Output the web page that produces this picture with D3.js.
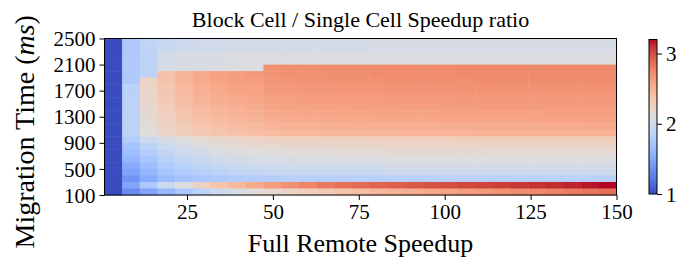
<!DOCTYPE html>
<html lang="en">
<head>
  <meta charset="UTF-8">
  <title>Block Cell / Single Cell Speedup ratio</title>
  <style>
    body {
      margin: 0;
      background: #fff;
    }
    text {
      font-family: "Liberation Serif", "Times New Roman", serif;
      fill: #000;
    }
  </style>
</head>
<body>
  <div id="chart"></div>

  <script src="https://d3js.org/d3.v7.min.js"></script>
  <script>
    // Full remote speedup (one column each)
    const speedups = [1, 6, 11, 16, 21, 26, 31, 36, 41, 46, 51, 56, 61, 66, 71,
      76, 81, 86, 91, 96, 101, 106, 111, 116, 121, 126, 131, 136, 141];

    // Migration time, lower edge of each row (ms), top row first
    const migrationTimes = [2400, 2300, 2200, 2100, 2000, 1900, 1800, 1700, 1600, 1500,
      1400, 1300, 1200, 1100, 1000, 900, 800, 700, 600, 500, 400, 300, 200, 100];
    const rowStep = 100;

    // Block cell / single cell speedup ratio, one row per migration time
    const ratio = [
      [1.00, 1.76, 1.88, 1.95, 1.97, 1.99, 2.00, 2.01, 2.01, 2.02, 2.02, 2.03, 2.03, 2.03, 2.03, 2.04, 2.04, 2.04, 2.04, 2.04, 2.04, 2.04, 2.04, 2.04, 2.04, 2.04, 2.04, 2.04, 2.04],
      [1.00, 1.76, 1.88, 1.95, 1.97, 1.99, 2.00, 2.01, 2.01, 2.02, 2.02, 2.03, 2.03, 2.03, 2.03, 2.04, 2.04, 2.04, 2.04, 2.04, 2.04, 2.04, 2.04, 2.04, 2.04, 2.04, 2.04, 2.04, 2.04],
      [1.00, 1.77, 1.87, 2.02, 2.04, 2.05, 2.06, 2.07, 2.07, 2.08, 2.08, 2.08, 2.08, 2.08, 2.08, 2.08, 2.08, 2.08, 2.08, 2.08, 2.08, 2.08, 2.08, 2.08, 2.08, 2.08, 2.08, 2.08, 2.08],
      [1.00, 1.77, 1.87, 2.02, 2.04, 2.05, 2.06, 2.07, 2.07, 2.08, 2.08, 2.08, 2.08, 2.08, 2.08, 2.08, 2.08, 2.08, 2.08, 2.08, 2.08, 2.08, 2.08, 2.08, 2.08, 2.08, 2.08, 2.08, 2.08],
      [1.00, 1.77, 1.87, 2.05, 2.06, 2.07, 2.07, 2.08, 2.08, 2.70, 2.71, 2.71, 2.72, 2.72, 2.72, 2.73, 2.73, 2.73, 2.73, 2.73, 2.74, 2.74, 2.74, 2.74, 2.74, 2.74, 2.74, 2.74, 2.74],
      [1.00, 1.76, 1.87, 2.40, 2.50, 2.57, 2.61, 2.63, 2.65, 2.69, 2.70, 2.70, 2.71, 2.71, 2.71, 2.72, 2.72, 2.72, 2.72, 2.72, 2.73, 2.73, 2.73, 2.73, 2.73, 2.73, 2.73, 2.73, 2.73],
      [1.00, 1.76, 2.24, 2.38, 2.48, 2.55, 2.59, 2.62, 2.63, 2.67, 2.68, 2.69, 2.69, 2.70, 2.70, 2.70, 2.71, 2.71, 2.71, 2.71, 2.71, 2.72, 2.72, 2.72, 2.72, 2.72, 2.72, 2.72, 2.72],
      [1.00, 1.84, 2.23, 2.36, 2.46, 2.53, 2.57, 2.60, 2.61, 2.65, 2.66, 2.67, 2.67, 2.68, 2.68, 2.68, 2.69, 2.69, 2.69, 2.69, 2.70, 2.70, 2.70, 2.70, 2.70, 2.70, 2.70, 2.70, 2.70],
      [1.00, 1.84, 2.21, 2.34, 2.44, 2.51, 2.55, 2.58, 2.59, 2.63, 2.64, 2.65, 2.65, 2.66, 2.66, 2.66, 2.67, 2.67, 2.67, 2.67, 2.68, 2.68, 2.68, 2.68, 2.68, 2.68, 2.68, 2.68, 2.68],
      [1.00, 1.85, 2.20, 2.32, 2.42, 2.49, 2.53, 2.56, 2.57, 2.61, 2.62, 2.63, 2.63, 2.64, 2.64, 2.64, 2.65, 2.65, 2.65, 2.65, 2.66, 2.66, 2.66, 2.66, 2.66, 2.66, 2.66, 2.66, 2.66],
      [1.00, 1.85, 2.18, 2.30, 2.40, 2.46, 2.50, 2.53, 2.55, 2.59, 2.60, 2.60, 2.61, 2.61, 2.62, 2.62, 2.62, 2.63, 2.63, 2.63, 2.63, 2.64, 2.64, 2.64, 2.64, 2.64, 2.64, 2.64, 2.64],
      [1.00, 1.86, 2.17, 2.28, 2.37, 2.43, 2.47, 2.50, 2.52, 2.56, 2.57, 2.58, 2.58, 2.59, 2.59, 2.60, 2.60, 2.60, 2.60, 2.61, 2.61, 2.61, 2.61, 2.61, 2.61, 2.62, 2.62, 2.62, 2.62],
      [1.00, 1.86, 2.15, 2.26, 2.34, 2.40, 2.44, 2.47, 2.49, 2.53, 2.54, 2.55, 2.55, 2.56, 2.56, 2.57, 2.57, 2.57, 2.57, 2.58, 2.58, 2.58, 2.58, 2.58, 2.59, 2.59, 2.59, 2.59, 2.59],
      [1.00, 1.86, 2.14, 2.24, 2.31, 2.37, 2.40, 2.43, 2.45, 2.49, 2.50, 2.51, 2.52, 2.52, 2.53, 2.53, 2.53, 2.54, 2.54, 2.54, 2.54, 2.55, 2.55, 2.55, 2.55, 2.55, 2.55, 2.56, 2.56],
      [1.00, 1.86, 2.12, 2.21, 2.28, 2.33, 2.36, 2.39, 2.41, 2.44, 2.45, 2.46, 2.47, 2.47, 2.48, 2.48, 2.48, 2.49, 2.49, 2.49, 2.49, 2.50, 2.50, 2.50, 2.50, 2.50, 2.51, 2.51, 2.51],
      [1.00, 1.80, 1.97, 2.05, 2.11, 2.16, 2.19, 2.22, 2.24, 2.25, 2.26, 2.26, 2.27, 2.27, 2.27, 2.28, 2.28, 2.28, 2.28, 2.28, 2.29, 2.29, 2.29, 2.29, 2.29, 2.29, 2.29, 2.29, 2.29],
      [1.00, 1.70, 1.86, 1.97, 2.03, 2.08, 2.12, 2.15, 2.17, 2.18, 2.19, 2.19, 2.20, 2.20, 2.20, 2.21, 2.21, 2.21, 2.21, 2.21, 2.21, 2.22, 2.22, 2.22, 2.22, 2.22, 2.22, 2.22, 2.22],
      [1.00, 1.65, 1.80, 1.90, 1.96, 2.01, 2.05, 2.08, 2.10, 2.11, 2.12, 2.13, 2.13, 2.14, 2.14, 2.14, 2.15, 2.15, 2.15, 2.15, 2.15, 2.15, 2.16, 2.16, 2.16, 2.16, 2.16, 2.16, 2.16],
      [1.00, 1.60, 1.72, 1.84, 1.90, 1.95, 1.99, 2.02, 2.04, 2.05, 2.06, 2.07, 2.07, 2.08, 2.08, 2.08, 2.09, 2.09, 2.09, 2.09, 2.09, 2.10, 2.10, 2.10, 2.10, 2.10, 2.10, 2.10, 2.10],
      [1.00, 1.52, 1.66, 1.78, 1.84, 1.89, 1.92, 1.95, 1.97, 1.98, 1.99, 2.00, 2.00, 2.01, 2.01, 2.01, 2.02, 2.02, 2.02, 2.02, 2.02, 2.03, 2.03, 2.03, 2.03, 2.03, 2.03, 2.03, 2.03],
      [1.00, 1.46, 1.60, 1.72, 1.78, 1.82, 1.86, 1.89, 1.91, 1.92, 1.93, 1.94, 1.94, 1.95, 1.95, 1.95, 1.96, 1.96, 1.96, 1.96, 1.96, 1.97, 1.97, 1.97, 1.97, 1.97, 1.97, 1.97, 1.97],
      [1.00, 1.38, 1.52, 1.64, 1.70, 1.74, 1.77, 1.79, 1.80, 1.81, 1.82, 1.82, 1.82, 1.83, 1.83, 1.83, 1.83, 1.83, 1.84, 1.84, 1.84, 1.84, 1.84, 1.84, 1.84, 1.84, 1.84, 1.84, 1.84],
      [1.00, 1.48, 1.76, 1.97, 2.10, 2.25, 2.37, 2.46, 2.55, 2.63, 2.70, 2.76, 2.81, 2.85, 2.88, 2.91, 2.93, 2.96, 2.98, 3.00, 3.02, 3.04, 3.06, 3.08, 3.10, 3.12, 3.14, 3.17, 3.20],
      [1.00, 1.33, 1.48, 1.62, 1.74, 1.85, 1.96, 2.05, 2.12, 2.18, 2.23, 2.28, 2.33, 2.38, 2.42, 2.46, 2.50, 2.54, 2.57, 2.60, 2.63, 2.66, 2.69, 2.72, 2.74, 2.77, 2.80, 2.83, 2.86]
    ];

    const xTicks = [25, 50, 75, 100, 125, 150];
    const yTicks = [100, 500, 900, 1300, 1700, 2100, 2500];
    const cbarTicks = [1, 2, 3];

    // coolwarm colormap (Moreland diverging table, 33 stops)
    const coolwarm = [
      [59, 76, 192], [68, 90, 204], [77, 104, 215], [87, 117, 225], [98, 130, 234],
      [108, 142, 241], [119, 154, 247], [130, 165, 251], [141, 176, 254], [152, 185, 255],
      [163, 194, 255], [174, 201, 253], [184, 208, 249], [194, 213, 244], [204, 217, 238],
      [213, 219, 230], [221, 221, 221], [229, 216, 209], [236, 211, 197], [241, 204, 185],
      [245, 196, 173], [247, 187, 160], [247, 177, 148], [247, 166, 135], [244, 154, 123],
      [241, 141, 111], [236, 127, 99], [229, 112, 88], [222, 96, 77], [213, 80, 66],
      [203, 62, 56], [192, 40, 47], [180, 4, 38]
    ];

    const vmin = 1, vmax = 3.2;

    const width = 694;
    const height = 265;
    const margin = { top: 38.5, right: 77.5, bottom: 70, left: 104.5 };

    const svg = d3.select('#chart')
      .append('svg')
      .attr('width', width)
      .attr('height', height);

    const cmap = d3.scaleLinear()
      .domain(coolwarm.map((d, i) => vmin + (vmax - vmin) * i / (coolwarm.length - 1)))
      .range(coolwarm.map(d => d3.rgb(d[0], d[1], d[2])))
      .interpolate(d3.interpolateRgb)
      .clamp(true);

    const x = d3.scaleLinear()
      .domain([1, 150])
      .range([margin.left, width - margin.right]);

    const y = d3.scaleLinear()
      .domain([100, 2500])
      .range([height - margin.bottom, margin.top]);

    // one band per speedup column, laid over the x extent
    const col = d3.scaleBand()
      .domain(speedups)
      .range([x(1), x(150)]);

    const cells = [];
    migrationTimes.forEach((t, i) => {
      speedups.forEach((s, j) => {
        cells.push({ t: t, s: s, v: ratio[i][j] });
      });
    });

    svg.append('g')
      .selectAll('rect')
      .data(cells)
      .join('rect')
      .attr('x', d => col(d.s))
      .attr('y', d => y(d.t + rowStep))
      .attr('width', col.bandwidth() + 0.5)
      .attr('height', d => y(d.t) - y(d.t + rowStep) + 0.5)
      .attr('fill', d => cmap(d.v));

    // frame
    svg.append('rect')
      .attr('x', x(1))
      .attr('y', y(2500))
      .attr('width', x(150) - x(1))
      .attr('height', y(100) - y(2500))
      .attr('fill', 'none')
      .attr('stroke', '#000')
      .attr('stroke-width', 1);

    // axes
    const xAxis = svg.append('g')
      .attr('transform', `translate(0, ${y(100)})`)
      .call(d3.axisBottom(x).tickValues(xTicks).tickSize(5).tickPadding(4).tickFormat(d3.format('d')));

    const yAxis = svg.append('g')
      .attr('transform', `translate(${x(1)}, 0)`)
      .call(d3.axisLeft(y).tickValues(yTicks).tickSize(5).tickPadding(4).tickFormat(d3.format('d')));

    [xAxis, yAxis].forEach(g => {
      g.select('.domain').remove();
      g.selectAll('line').attr('stroke', '#000').attr('stroke-width', 1);
      g.selectAll('text')
        .style('font-family', '"Liberation Serif", serif')
        .style('font-size', '21px')
        .attr('fill', '#000');
    });
    yAxis.selectAll('text').attr('dy', '0.34em');

    // title and labels
    svg.append('text')
      .attr('x', (x(1) + x(150)) / 2)
      .attr('y', 27)
      .attr('text-anchor', 'middle')
      .style('font-size', '22px')
      .text('Block Cell / Single Cell Speedup ratio');

    svg.append('text')
      .attr('x', (x(1) + x(150)) / 2)
      .attr('y', 252)
      .attr('text-anchor', 'middle')
      .style('font-size', '26px')
      .text('Full Remote Speedup');

    const yl = svg.append('text')
      .attr('transform', `translate(34, ${(y(100) + y(2500)) / 2 + 15}) rotate(-90)`)
      .attr('text-anchor', 'middle')
      .style('font-size', '28px');
    yl.append('tspan').text('Migration Time (');
    yl.append('tspan').style('font-style', 'italic').text('ms');
    yl.append('tspan').text(')');

    // colorbar
    const cb = { x: 649, w: 8 };
    const cy = d3.scaleLinear()
      .domain([vmin, vmax])
      .range([y(100) - 1, y(2500) + 1]);

    const grad = svg.append('defs')
      .append('linearGradient')
      .attr('id', 'cbar')
      .attr('x1', 0).attr('y1', 1)
      .attr('x2', 0).attr('y2', 0);
    coolwarm.forEach((d, i) => {
      grad.append('stop')
        .attr('offset', i / (coolwarm.length - 1))
        .attr('stop-color', d3.rgb(d[0], d[1], d[2]));
    });

    svg.append('rect')
      .attr('x', cb.x)
      .attr('y', cy(vmax))
      .attr('width', cb.w)
      .attr('height', cy(vmin) - cy(vmax))
      .attr('fill', 'url(#cbar)')
      .attr('stroke', '#000')
      .attr('stroke-width', 1);

    const cAxis = svg.append('g')
      .attr('transform', `translate(${cb.x + cb.w}, 0)`)
      .call(d3.axisRight(cy).tickValues(cbarTicks).tickSize(5).tickPadding(4).tickFormat(d3.format('d')));
    cAxis.select('.domain').remove();
    cAxis.selectAll('line').attr('stroke', '#000');
    cAxis.selectAll('text')
      .style('font-family', '"Liberation Serif", serif')
      .style('font-size', '21px')
      .attr('dy', '0.34em')
      .attr('fill', '#000');
  </script>
</body>
</html>
